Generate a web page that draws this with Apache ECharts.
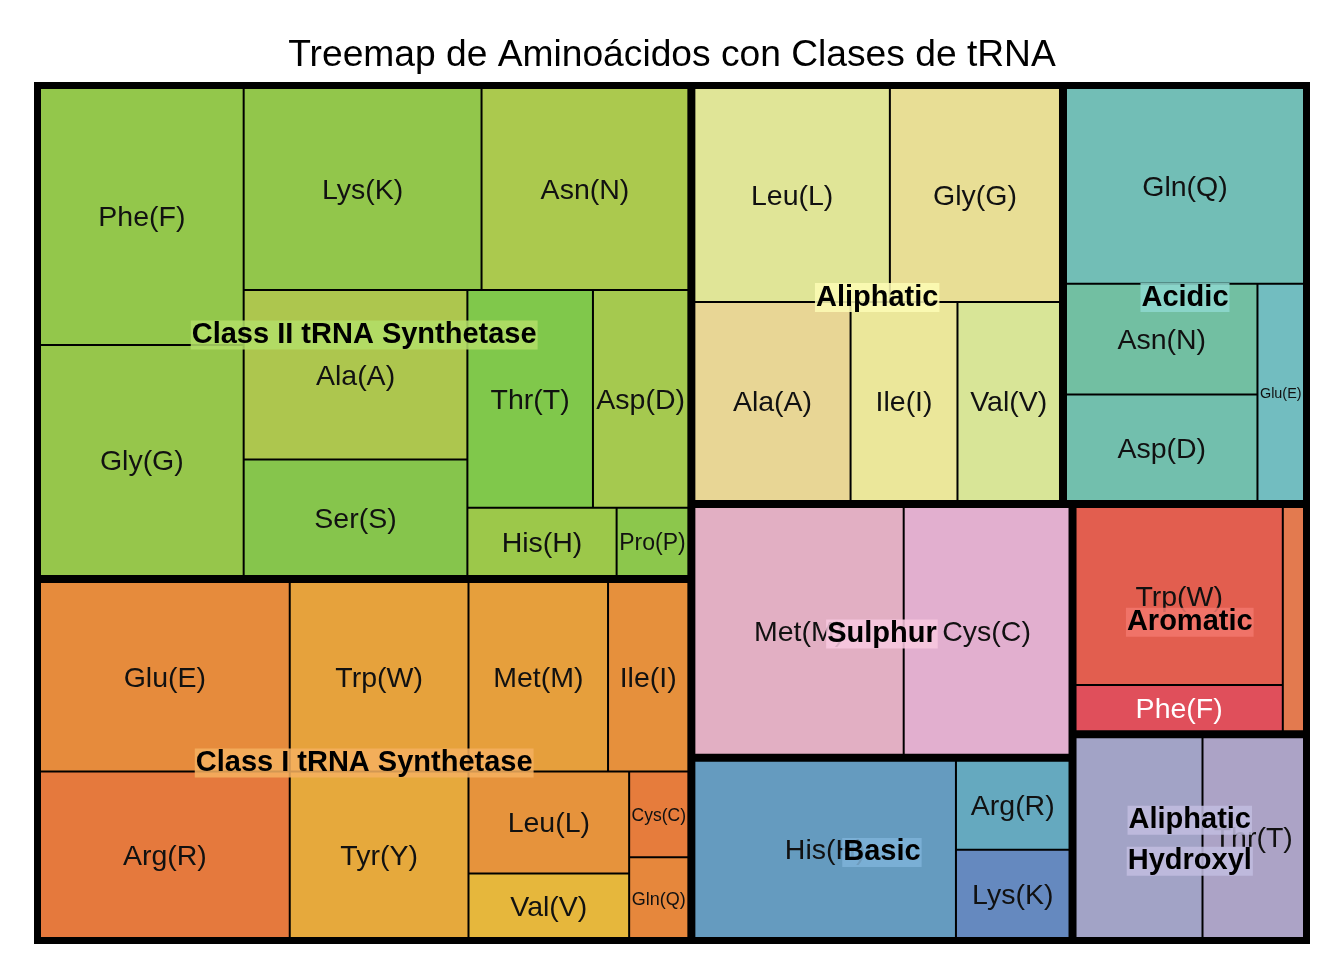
<!DOCTYPE html>
<html><head><meta charset="utf-8">
<script src="https://cdn.jsdelivr.net/npm/echarts@6/dist/echarts.min.js"></script>
<style>html,body{margin:0;padding:0;background:#fff}#c{width:1344px;height:960px}</style>
</head><body><div id="c"></div>
<script>
// ---------- data ----------
const groupNames = ['Class II tRNA Synthetase','Class I tRNA Synthetase','Aliphatic','Acidic','Sulphur','Basic','Aromatic','Aliphatic\nHydroxyl'];

const classIINames  = ['Phe(F)','Gly(G)','Lys(K)','Asn(N)','Ala(A)','Ser(S)','Thr(T)','Asp(D)','His(H)','Pro(P)'];
const classIIValues = [53.4, 48.0, 49.0, 42.6, 38.7, 26.6, 27.9, 21.2, 10.4, 5.0];

const classINames  = ['Glu(E)','Arg(R)','Trp(W)','Tyr(Y)','Met(M)','Ile(I)','Leu(L)','Val(V)','Cys(C)','Gln(Q)'];
const classIValues = [48.5, 42.6, 34.7, 30.5, 27.1, 15.6, 16.8, 10.6, 5.2, 4.9];

const aliphaticNames  = ['Leu(L)','Gly(G)','Ala(A)','Ile(I)','Val(V)'];
const aliphaticValues = [43.1, 37.5, 32.0, 21.9, 21.0];

const acidicNames  = ['Gln(Q)','Asn(N)','Asp(D)','Glu(E)'];
const acidicValues = [48.4, 22.0, 21.2, 10.5];

const sulphurNames  = ['Met(M)','Cys(C)'];
const sulphurValues = [53.9, 42.7];

const basicNames  = ['His(H)','Arg(R)','Lys(K)'];
const basicValues = [48.6, 10.6, 10.5];

const aromaticNames  = ['Trp(W)','Phe(F)','Tyr(Y)'];
const aromaticValues = [38.8, 10.1, 5.0];

const hydroxylNames  = ['Ser(S)','Thr(T)'];
const hydroxylValues = [26.9, 21.5];

// ---------- styling (kept apart from the data) ----------
const classIIColors   = ['#93c74b','#96c64b','#92c64b','#abc94e','#adc64e','#86c54c','#80c84b','#a5c94f','#9cc84a','#8cc74c'];
const classIColors    = ['#e68b3c','#e5793d','#e6a23c','#e6a93c','#e69f3c','#e6903c','#e6933c','#e6b73c','#e67c3c','#e6873c'];
const aliphaticColors = ['#e0e597','#e8de95','#e8d695','#ebe79a','#d8e597'];
const acidicColors    = ['#72beb6','#72bfa2','#72bfad','#72bdc0'];
const sulphurColors   = ['#e2afc3','#e2afcf'];
const basicColors     = ['#659bbf','#65a9bf','#6589bf'];
const aromaticColors  = ['#e25e4f','#e04f5b','#e37a4f'];
const hydroxylColors  = ['#a2a3c6','#aca3c6'];
const groupLabelBg = ['rgba(178,222,104,0.86)','rgba(245,176,96,0.86)','rgba(253,251,180,0.86)','rgba(142,216,207,0.86)',
                      'rgba(248,200,224,0.86)','rgba(126,178,216,0.86)','rgba(242,119,108,0.86)','rgba(193,189,224,0.86)'];

// nesting order in which the treemap splits each group (indices into the arrays above)
const classIIBlocks   = [0,1,2,3,4,5,[6,7],8,9];
const classIBlocks    = [0,1,2,3,[4,5],[6,7],8,9];
const aliphaticBlocks = [0,1,2,3,4];
const acidicBlocks    = [0,1,2,3];
const sulphurBlocks   = [0,1];
const basicBlocks     = [0,1,2];
const aromaticBlocks  = [[0,1],2];
const hydroxylBlocks  = [0,1];

const labelSizeOverride = {'0|Pro(P)': 23, '1|Cys(C)': 17.5, '1|Gln(Q)': 18, '3|Glu(E)': 14.4};
const labelColorOverride = {'6|Phe(F)': '#ffffff'};
const hiddenLabels = {'7|Ser(S)': true, '6|Tyr(Y)': true};

const groups = [
  [classIINames, classIIValues, classIIColors, classIIBlocks],
  [classINames, classIValues, classIColors, classIBlocks],
  [aliphaticNames, aliphaticValues, aliphaticColors, aliphaticBlocks],
  [acidicNames, acidicValues, acidicColors, acidicBlocks],
  [sulphurNames, sulphurValues, sulphurColors, sulphurBlocks],
  [basicNames, basicValues, basicColors, basicBlocks],
  [aromaticNames, aromaticValues, aromaticColors, aromaticBlocks],
  [hydroxylNames, hydroxylValues, hydroxylColors, hydroxylBlocks]
];

const FONT = 'Liberation Sans, Arial, Helvetica, sans-serif';

function leafNode(gi, i) {
  const [names, values, colors] = groups[gi];
  const key = gi + '|' + names[i];
  return {
    name: names[i],
    value: values[i],
    itemStyle: {color: colors[i], borderWidth: 1, borderColor: '#000', gapWidth: 0},
    label: {
      show: !hiddenLabels[key],
      fontSize: labelSizeOverride[key] || 28.5,
      color: labelColorOverride[key] || '#111'
    }
  };
}
function blockNode(gi, spec) {
  if (Array.isArray(spec)) {
    return {name: '', itemStyle: {borderWidth: 0, gapWidth: 0, borderColor: '#000'},
            children: spec.map(s => blockNode(gi, s))};
  }
  return leafNode(gi, spec);
}

const treeData = groups.map((g, gi) => ({
  name: groupNames[gi],
  itemStyle: {borderWidth: 3, borderColor: '#000', gapWidth: 0},
  children: g[3].map(s => blockNode(gi, s))
}));

const SINGLE_LH = 30, MULTI_LH = 41, LABEL_SHIFT = 3;
const labelData = groups.map((g, gi) => {
  const parts = groupNames[gi].split('\n');
  const style = parts.length > 1 ? 'm' : 's';
  return {
    name: groupNames[gi],
    value: g[1].reduce((a, b) => a + b, 0),
    itemStyle: {color: 'rgba(0,0,0,0)', borderWidth: 0, borderColor: 'rgba(0,0,0,0)'},
    label: {
      formatter: parts.map(p => '{' + style + '|' + p + '}').join('\n'),
      rich: {
        s: {fontFamily: FONT, fontSize: 29, fontWeight: 'bold', color: '#000', lineHeight: SINGLE_LH,
            backgroundColor: groupLabelBg[gi], padding: [0, 1]},
        m: {fontFamily: FONT, fontSize: 29, fontWeight: 'bold', color: '#000', lineHeight: MULTI_LH,
            backgroundColor: groupLabelBg[gi], padding: [0, 1]}
      }
    }
  };
});

const box = {left: 34, top: 82, width: 1276, height: 862};
const common = Object.assign({
  type: 'treemap', roam: false, nodeClick: false, breadcrumb: {show: false},
  sort: false, squareRatio: 1.05, visibleMin: 0, silent: true, animation: false,
  upperLabel: {show: false}
}, box);

const chart = echarts.init(document.getElementById('c'), null, {renderer: 'canvas'});
chart.setOption({
  animation: false,
  title: {
    text: 'Treemap de Aminoácidos con Clases de tRNA',
    left: 'center', top: 32,
    textStyle: {fontFamily: FONT, fontSize: 37.2, fontWeight: 'normal', color: '#000'}
  },
  series: [
    Object.assign({}, common, {
      z: 2,
      itemStyle: {borderWidth: 0, gapWidth: 0, borderColor: '#000'},
      levels: [{itemStyle: {borderWidth: 3, borderColor: '#000', gapWidth: 0}}],
      label: {show: true, position: 'inside', align: 'center', verticalAlign: 'middle',
              fontFamily: FONT, fontSize: 28.5, color: '#111', padding: 0, overflow: 'none',
              offset: [0, 2]},
      data: treeData
    }),
    Object.assign({}, common, {
      z: 10,
      itemStyle: {borderWidth: 0, gapWidth: 0, borderColor: 'rgba(0,0,0,0)', color: 'rgba(0,0,0,0)'},
      levels: [{itemStyle: {borderWidth: 3, borderColor: 'rgba(0,0,0,0)', gapWidth: 0}}],
      label: {show: true, position: 'inside', align: 'center', verticalAlign: 'middle',
              padding: 0, overflow: 'none', color: '#000'},
      labelLayout: function (p) {
        const lines = String(p.text || '').split('\n').length;
        const h = lines > 1 ? lines * MULTI_LH : SINGLE_LH;
        return {y: p.rect.y + p.rect.height / 2 - h / 2 + LABEL_SHIFT, verticalAlign: 'top'};
      },
      data: labelData
    })
  ]
});
</script></body></html>
